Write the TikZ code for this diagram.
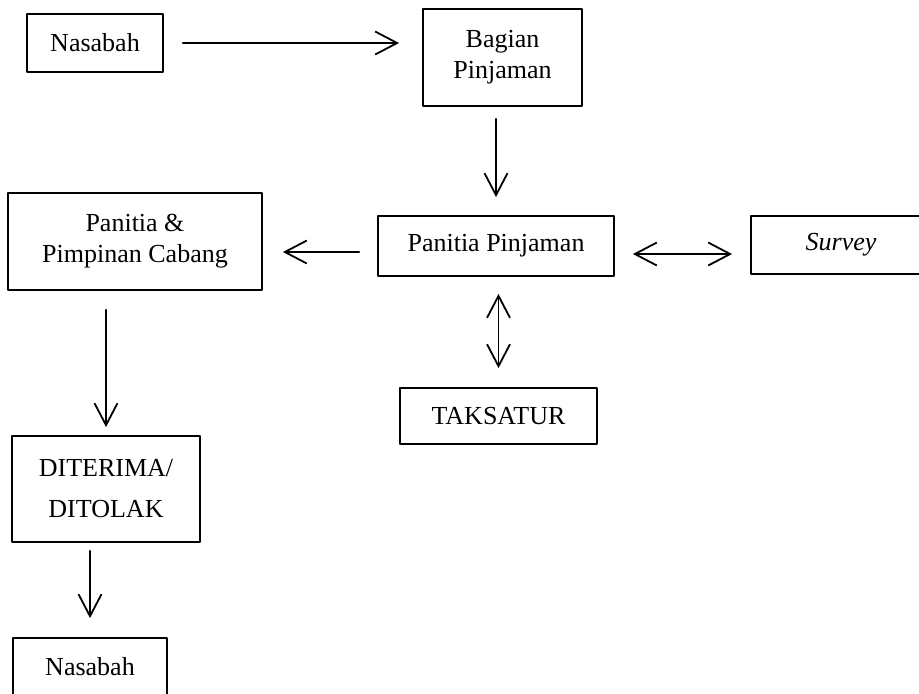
\documentclass[tikz,border=0pt]{standalone}
\usepackage{fontspec}
\setmainfont{Liberation Serif}
\usetikzlibrary{arrows.meta}
\begin{document}
\begin{tikzpicture}[x=0.5pt,y=-0.5pt,line cap=round,line join=round,
  >={Straight Barb[length=11pt,width=11.5pt]},
  kotak/.style={draw,line width=0.9pt,align=center,inner sep=0pt,font=\fontsize{13}{15.5}\selectfont},
  panah/.style={line width=0.9pt}]
\useasboundingbox (0,0) rectangle (919,693);
% kotak-kotak alur
\node[kotak,minimum width=68pt,minimum height=29pt] (nas1) at (95,43) {Nasabah};
\node[kotak,minimum width=79.5pt,minimum height=48.5pt] (bag) at (502.5,57.5) {Bagian\\Pinjaman};
\node[kotak,minimum width=118pt,minimum height=30pt] (pp) at (496,246) {Panitia Pinjaman};
\node[kotak,minimum width=127pt,minimum height=48.5pt] (pc) at (135,241.5) {Panitia \&\\Pimpinan Cabang};
\node[kotak,minimum width=90pt,minimum height=29pt] (srv) at (841,245) {\textit{Survey}};
\node[kotak,minimum width=98.5pt,minimum height=28pt] (tak) at (498.5,416) {TAKSATUR};
\node[kotak,minimum width=94pt,minimum height=53pt] (dit) at (106,489) {DITERIMA/\\[5pt]DITOLAK};
\node[kotak,minimum width=77pt,minimum height=29pt] (nas2) at (90,667) {Nasabah};
% panah
\draw[panah,->,shorten <=9.5pt,shorten >=11.5pt] (nas1.east) -- (nas1.east -| bag.west);
\draw[panah,->,shorten <=6pt,shorten >=9pt] (pp.north |- bag.south) -- (pp.north);
\draw[panah,->,shorten <=9pt,shorten >=10pt] ([yshift=-3pt]pp.west) -- ([yshift=-3pt]pp.west -| pc.east);
\draw[panah,<->,shorten <=9pt,shorten >=9pt] ([yshift=-4pt]pp.east) -- ([yshift=-4pt]pp.east -| srv.west);
\draw[panah,<->,shorten <=8.5pt,shorten >=9.5pt] (tak.north |- pp.south) -- (tak.north);
\draw[panah,->,shorten <=9.5pt,shorten >=4pt] (dit.north |- pc.south) -- (dit.north);
\draw[panah,->,shorten <=4pt,shorten >=9.5pt] (nas2.north |- dit.south) -- (nas2.north);
\end{tikzpicture}
\end{document}
